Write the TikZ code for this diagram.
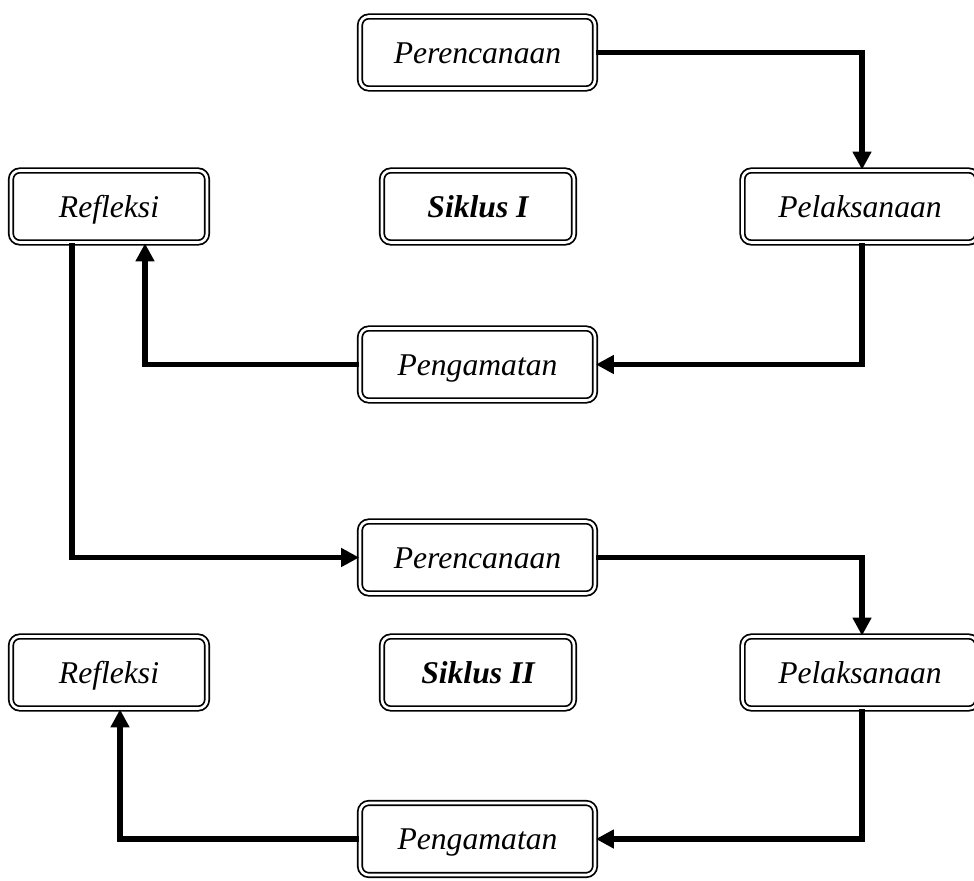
\documentclass[tikz,border=0pt]{standalone}
\usepackage{fontspec}
\setmainfont{Liberation Serif}
\usetikzlibrary{positioning}
\usetikzlibrary{arrows.meta}
\tikzset{
    boxn/.style = {rectangle, rounded corners=5pt, draw=black, double=white, line width=1pt, double distance=1.5pt, align=center, minimum height=1.44cm, text height=13pt, text depth=1pt, font=\fontsize{18}{20}\selectfont\itshape, text=black},
    boxs/.style = {boxn, font=\fontsize{18}{20}\selectfont\bfseries\itshape},
    edgea/.style = {-{Triangle[length=0.36cm,width=0.36cm]}, line width=3pt, black},
    edgen/.style = {-, line width=3pt, black}
}
\begin{document}
\begin{tikzpicture}
\useasboundingbox (0,0) rectangle (19.48,17.6);
% siklus I
\node[boxn, minimum width=4.7cm] at ( 9.55, 16.55) (per1) {Perencanaan};
\node[boxn, minimum width=3.92cm] at ( 2.18, 13.47) (ref1) {Refleksi};
\node[boxs, minimum width=3.84cm] at ( 9.56, 13.47) (sik1) {Siklus I};
\node[boxn, minimum width=4.7cm] at (17.2, 13.47) (pel1) {Pelaksanaan};
\node[boxn, minimum width=4.7cm] at ( 9.55, 10.31) (pen1) {Pengamatan};
% siklus II
\node[boxn, minimum width=4.7cm] at ( 9.55,  6.45) (per2) {Perencanaan};
\node[boxn, minimum width=3.92cm] at ( 2.18,  4.15) (ref2) {Refleksi};
\node[boxs, minimum width=3.84cm] at ( 9.56,  4.15) (sik2) {Siklus II};
\node[boxn, minimum width=4.7cm] at (17.2,  4.15) (pel2) {Pelaksanaan};
\node[boxn, minimum width=4.7cm] at ( 9.55,  0.82) (pen2) {Pengamatan};

\draw[edgea] (per1.east) -| ([xshift=0.04cm]pel1.north);
\draw[edgea] ([xshift=0.04cm]pel1.south) |- (pen1.east);
\draw[edgea] (pen1.west) -| ([xshift=0.72cm]ref1.south);
\draw[edgea] ([xshift=-0.74cm]ref1.south) |- (per2.west);
\draw[edgea] (per2.east) -| ([xshift=0.04cm]pel2.north);
\draw[edgea] ([xshift=0.04cm]pel2.south) |- (pen2.east);
\draw[edgea] (pen2.west) -| ([xshift=0.22cm]ref2.south);

\end{tikzpicture}
\end{document}
